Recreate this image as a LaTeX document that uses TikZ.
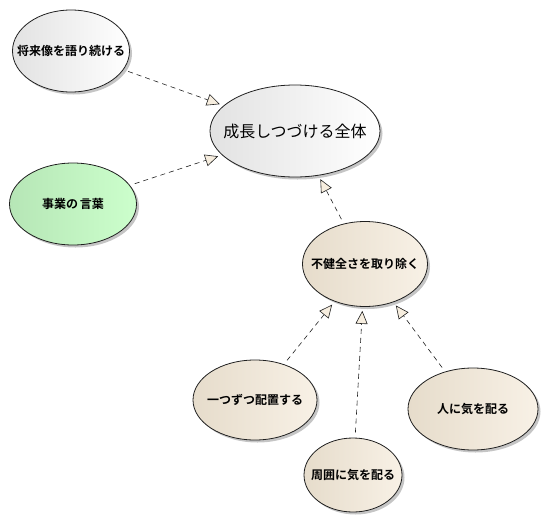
\documentclass[tikz,border=0pt]{standalone}
\usepackage{fontspec}
\newfontfamily\jp{Noto Sans CJK JP}
\newfontfamily\jpb{Noto Sans CJK JP Bold}
\usetikzlibrary{arrows.meta,shadows,shapes.geometric}
\definecolor{grayL}{HTML}{E2E2E2}
\definecolor{grayR}{HTML}{FFFFFF}
\definecolor{greenL}{HTML}{B6E6B6}
\definecolor{greenR}{HTML}{CCFFCC}
\definecolor{creamL}{HTML}{E6DCCB}
\definecolor{creamR}{HTML}{F8F1E6}
\definecolor{tipfill}{HTML}{F7EEDF}
\definecolor{edge}{HTML}{202020}
\tikzset{
  uc/.style={ellipse, draw=edge, line width=0.8pt, inner sep=0pt,
    drop shadow={shadow xshift=2.5pt, shadow yshift=-2.5pt, fill=black!45, opacity=0.5}},
  ucgray/.style={uc, left color=grayL, right color=grayR},
  ucgreen/.style={uc, left color=greenL, right color=greenR},
  uccream/.style={uc, left color=creamL, right color=creamR},
  lbl/.style={font=\jpb\fontsize{12}{13}\selectfont, text=black},
  dep/.style={draw=edge, line width=0.6pt, dash pattern=on 5pt off 4pt,
    -{Triangle[length=13pt, width=12pt, fill=tipfill, line width=0.6pt]},
    shorten <=5pt, shorten >=4pt}
}
\begin{document}
\begin{tikzpicture}[x=1pt,y=-1pt]
\useasboundingbox (0,0) rectangle (547,520);
\node[ucgray, minimum width=117pt, minimum height=82pt,
  label={[lbl]center:将来像を語り続ける}] (a) at (71,51) {};
\node[ucgray, minimum width=170pt, minimum height=92pt,
  label={[font=\jp\fontsize{16}{17}\selectfont]center:成長しつづける全体}] (main) at (295,131) {};
\node[ucgreen, minimum width=127pt, minimum height=82pt,
  label={[lbl]center:事業の\,言葉}] (b) at (73,204) {};
\node[uccream, minimum width=125pt, minimum height=85pt,
  label={[lbl]center:不健全さを取り除く}] (c) at (365,264) {};
\node[uccream, minimum width=124pt, minimum height=80pt,
  label={[lbl]center:一つずつ配置する}] (d) at (255,400) {};
\node[uccream, minimum width=98pt, minimum height=74pt,
  label={[lbl]center:周囲に気を配る}] (e) at (353,475) {};
\node[uccream, minimum width=130pt, minimum height=82pt,
  label={[lbl]center:人に気を配る}] (f) at (473,409) {};
\draw[dep] (a) -- (main);
\draw[dep] (b) -- (main);
\draw[dep] (c) -- (main);
\draw[dep] (d) -- (c);
\draw[dep] (e) -- (c);
\draw[dep] (f) -- (c);
\end{tikzpicture}
\end{document}
